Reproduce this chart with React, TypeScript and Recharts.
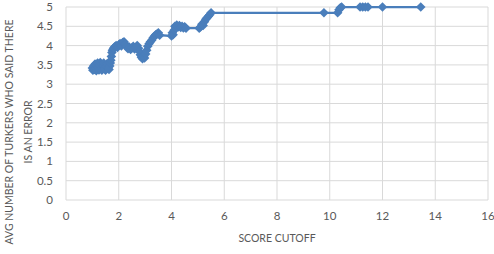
import React from 'react';
import {
  ScatterChart,
  Scatter,
  XAxis,
  YAxis,
  CartesianGrid,
} from 'recharts';

// score cutoff (x) and avg number of turkers flagging an error (y)
const scoreCutoff = [
  1.0, 1.02, 1.05, 1.08, 1.1, 1.13, 1.15, 1.18, 1.2, 1.23, 1.25, 1.28, 1.3,
  1.33, 1.36, 1.4, 1.43, 1.46, 1.5, 1.53, 1.56, 1.6, 1.63, 1.66, 1.68, 1.7,
  1.72, 1.74, 1.76, 1.8, 1.85, 1.9, 1.95, 2.0, 2.05, 2.1, 2.15, 2.2, 2.25,
  2.3, 2.35, 2.4, 2.45, 2.5, 2.55, 2.6, 2.65, 2.7, 2.75, 2.78, 2.82, 2.86,
  2.9, 2.94, 2.98, 3.02, 3.06, 3.1, 3.15, 3.2, 3.25, 3.3, 3.35, 3.4, 3.45,
  3.5, 3.55, 4.0, 4.03, 4.06, 4.1, 4.13, 4.16, 4.2, 4.25, 4.3, 4.35, 4.4,
  4.45, 4.5, 4.55, 5.05, 5.1, 5.15, 5.2, 5.25, 5.3, 5.35, 5.4, 5.45, 5.5,
  9.78, 10.3, 10.35, 10.4, 10.45, 11.15, 11.25, 11.35, 11.45, 12.0, 13.45,
];

const avgTurkers = [
  3.42, 3.36, 3.47, 3.38, 3.52, 3.4, 3.35, 3.48, 3.55, 3.43, 3.37, 3.5, 3.56,
  3.42, 3.36, 3.47, 3.55, 3.4, 3.36, 3.46, 3.53, 3.42, 3.38, 3.47, 3.55, 3.62,
  3.72, 3.82, 3.88, 3.93, 3.97, 4.0, 3.95, 4.02, 4.05, 3.99, 4.08, 4.1, 4.04,
  3.97, 3.92, 3.96, 3.9, 3.94, 3.98, 3.91, 3.95, 4.0, 3.93, 3.85, 3.76, 3.7,
  3.66, 3.72, 3.68, 3.78, 3.88, 3.98, 4.05, 4.1, 4.14, 4.2, 4.24, 4.28, 4.3,
  4.33, 4.27, 4.25, 4.33, 4.28, 4.4, 4.5, 4.46, 4.53, 4.48, 4.52, 4.47, 4.5,
  4.46, 4.49, 4.45, 4.45, 4.48, 4.55, 4.52, 4.62, 4.68, 4.72, 4.76, 4.8,
  4.85, 4.85, 4.85, 4.93, 4.98, 5.0, 5.0, 5.0, 5.0, 5.0, 5.0, 5.0,
];

const xTicks = [0, 2, 4, 6, 8, 10, 12, 14, 16];
const yTicks = [0, 0.5, 1, 1.5, 2, 2.5, 3, 3.5, 4, 4.5, 5];

const data = scoreCutoff.map((x, i) => ({ x, y: avgTurkers[i] }));

const BLUE = '#4A7EBB';
const GREY = '#595959';
const FONT = 'Lato, "Liberation Sans", sans-serif';

const Diamond = (props: any) => {
  const { cx, cy } = props;
  if (cx == null || cy == null) return null;
  const r = 4.8;
  return (
    <polygon
      points={`${cx},${cy - r} ${cx + r},${cy} ${cx},${cy + r} ${cx - r},${cy}`}
      fill={BLUE}
    />
  );
};

const YTitle = () => (
  <g fill={GREY} fontFamily={FONT} fontSize={10.5}>
    <text
      transform="translate(9,132) rotate(-90)"
      textAnchor="middle"
      dominantBaseline="central"
    >
      AVG NUMBER OF TURKERS WHO SAID THERE
    </text>
    <text
      transform="translate(28,132) rotate(-90)"
      textAnchor="middle"
      dominantBaseline="central"
    >
      IS AN ERROR
    </text>
  </g>
);

export default function App() {
  return (
    <div
      style={{
        position: 'absolute',
        left: 0,
        top: 0,
        width: 494,
        height: 254,
        background: '#fff',
      }}
    >
      <ScatterChart
        width={494}
        height={254}
        margin={{ top: 7, right: 6, left: 0, bottom: 0 }}
      >
        <CartesianGrid stroke="#D9D9D9" strokeWidth={1} />
        <XAxis
          type="number"
          dataKey="x"
          domain={[0, 16]}
          ticks={xTicks}
          interval={0}
          height={54}
          axisLine={false}
          tickLine={false}
          tickSize={0}
          tickMargin={12}
          tick={{ fill: GREY, fontSize: 11.5, fontFamily: FONT }}
          label={{
            value: 'SCORE CUTOFF',
            position: 'insideBottom',
            offset: 12,
            fill: GREY,
            fontSize: 10.5,
            fontFamily: FONT,
          }}
        />
        <YAxis
          type="number"
          dataKey="y"
          domain={[0, 5]}
          ticks={yTicks}
          interval={0}
          width={66}
          axisLine={false}
          tickLine={false}
          tickSize={0}
          tickMargin={13}
          tick={{ fill: GREY, fontSize: 11.5, fontFamily: FONT }}
          label={{ content: () => <YTitle /> }}
        />
        <Scatter
          data={data}
          line={{ stroke: BLUE, strokeWidth: 2.25 }}
          shape={<Diamond />}
          fill={BLUE}
          isAnimationActive={false}
        />
      </ScatterChart>
    </div>
  );
}
